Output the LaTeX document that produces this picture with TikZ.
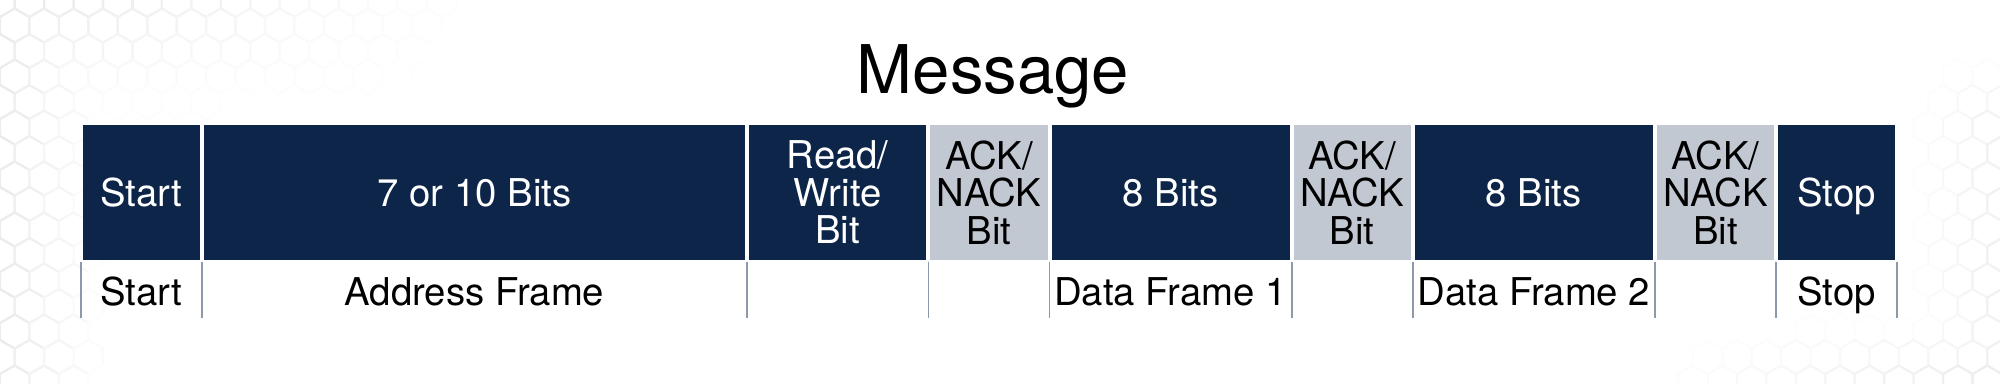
\documentclass[tikz,border=0pt]{standalone}
\usepackage{fontspec}
\setmainfont{TeX Gyre Heros}

\definecolor{framenavy}{HTML}{0C2549}
\definecolor{ackgray}{HTML}{C2C8D2}
\definecolor{tickgray}{HTML}{8D99AA}

\tikzset{
	field/.style={minimum width=#1*12.107mm-0.4mm, minimum height=13.5mm, inner sep=0pt, align=center, font=\fontsize{10.9}{10.7}\selectfont},
	darkfield/.style={field=#1, fill=framenavy, text=white},
	ackfield/.style={field=#1, fill=ackgray, text=black},
	framename/.style={anchor=base, inner sep=0pt, font=\fontsize{10.9}{10.7}\selectfont},
}

\begin{document}
\begin{tikzpicture}
	\newcommand\xo{0.81};
	\newcommand\unit{1.2107};
	\newcommand\ybox{-1.925};
	\newcommand\ylbl{-3.05};
	\useasboundingbox (0,0) rectangle (20,-3.83);
	% faint hexagon backdrop, fading out from the corners
	\foreach \j in {0,...,15} {
		\foreach \i in {0,...,68} {
			\pgfmathsetmacro\hx{\i*0.2944+mod(\j,2)*0.1472}
			\pgfmathsetmacro\hd{\j*0.255}
			\pgfmathsetmacro\shade{max(0,min(8,max(8*(1-\hx/1.1), 9*max(0,1-\hx/4.8)*max(0,1-\hd/1.15), 6*(\hx-19.1)*min(1,max(0,(\hd-0.6)/0.7)), 7*max(0,(\hd-3.2)/0.63)*max(0,(\hx-16.4)/3.6))))}
			\ifdim\shade pt>0.4pt
				\draw[black!\shade, line width=0.6pt] (\hx, -\hd) +(30:0.17) -- +(90:0.17) -- +(150:0.17) -- +(210:0.17) -- +(270:0.17) -- +(330:0.17) -- cycle;
			\fi
		}
	}
	\node[font=\fontsize{19.1}{22}\selectfont, anchor=base] (message) at (9.93,-0.93) {Message};
	\node[darkfield=1] (start) at (\xo+0.5*\unit, \ybox) {Start};
	\node[darkfield=4.5] (addr) at (\xo+3.25*\unit, \ybox) {7 or 10 Bits};
	\node[darkfield=1.5] (rw) at (\xo+6.25*\unit, \ybox) {Read/\\Write\\Bit};
	\node[ackfield=1] (ack1) at (\xo+7.5*\unit, \ybox) {ACK/\\NACK\\Bit};
	\node[darkfield=2] (data1) at (\xo+9*\unit, \ybox) {8 Bits};
	\node[ackfield=1] (ack2) at (\xo+10.5*\unit, \ybox) {ACK/\\NACK\\Bit};
	\node[darkfield=2] (data2) at (\xo+12*\unit, \ybox) {8 Bits};
	\node[ackfield=1] (ack3) at (\xo+13.5*\unit, \ybox) {ACK/\\NACK\\Bit};
	\node[darkfield=1, text depth=0pt] (stop) at (\xo+14.5*\unit, \ybox) {Stop};
	\foreach \k in {0,1,5.5,7,8,10,11,13,14,15} {
		\draw[tickgray, line width=0.5pt] (\xo+\k*\unit, -2.62) -- (\xo+\k*\unit, -3.18);
	}
	\node[framename] (startname) at (\xo+0.5*\unit, \ylbl) {Start};
	\node[framename] (addrname) at (\xo+3.25*\unit, \ylbl) {Address Frame};
	\node[framename] (data1name) at (\xo+9*\unit, \ylbl) {Data Frame 1};
	\node[framename] (data2name) at (\xo+12*\unit, \ylbl) {Data Frame 2};
	\node[framename] (stopname) at (\xo+14.5*\unit, \ylbl) {Stop};
\end{tikzpicture}
\end{document}
